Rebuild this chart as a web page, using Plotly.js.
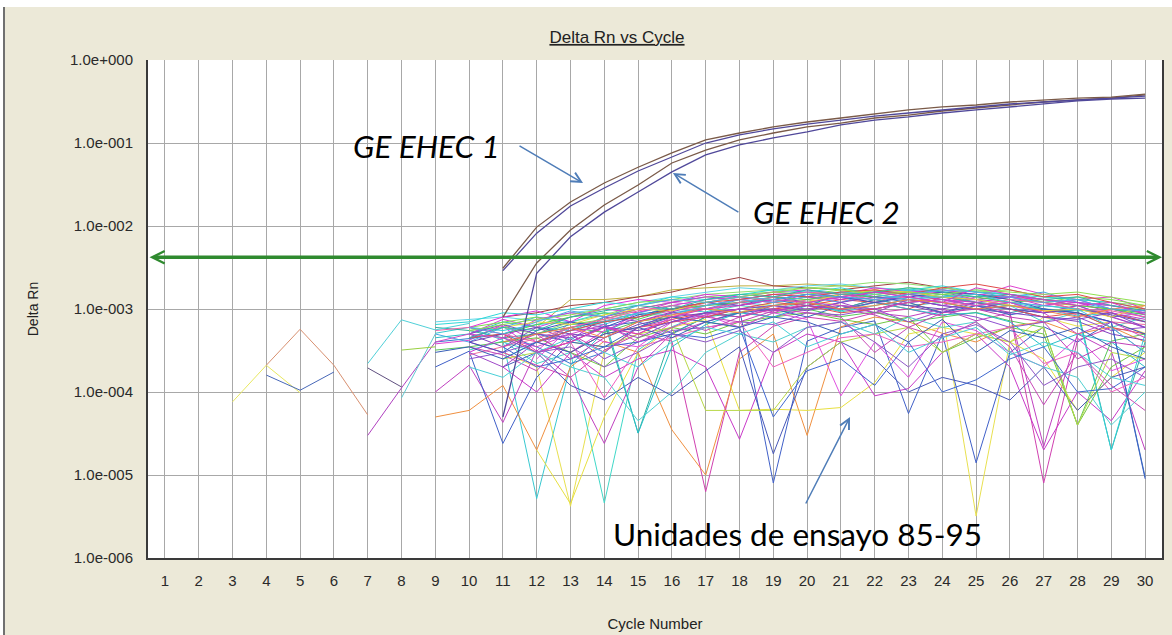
<!DOCTYPE html>
<html><head><meta charset="utf-8">
<script src="https://cdn.plot.ly/plotly-3.0.1.min.js"></script>
<style>
html,body{margin:0;padding:0;background:#fff;}
#bg{position:absolute;left:3px;top:7px;width:1167px;height:628px;background:#ECE9D8;border-left:2px solid #707070;}
#chart{position:absolute;left:0;top:0;width:1172px;height:635px;}
</style></head><body>
<div id="bg"></div><div id="chart"></div>
<script>
// ---------- axis ticks ----------
const cycleTicks = [1,2,3,4,5,6,7,8,9,10,11,12,13,14,15,16,17,18,19,20,21,22,23,24,25,26,27,28,29,30];
const yTickVals = [1e-6,1e-5,1e-4,1e-3,1e-2,1e-1,1];
const yTickText = ['1.0e-006','1.0e-005','1.0e-004','1.0e-003','1.0e-002','1.0e-001','1.0e+000'];

// ---------- threshold ----------
const threshold = 0.0042;

// ---------- amplification curves (GE EHEC) ----------
const ampCycles = [11,12,13,14,15,16,17,18,19,20,21,22,23,24,25,26,27,28,29,30];
const ehec1a = [0.0031,0.0097,0.0195,0.033,0.051,0.076,0.109,0.132,0.156,0.179,0.200,0.224,0.250,0.272,0.287,0.312,0.330,0.348,0.358,0.389];
const ehec1b = [0.0029,0.0082,0.0174,0.0287,0.046,0.068,0.100,0.125,0.148,0.169,0.189,0.211,0.230,0.250,0.272,0.295,0.312,0.330,0.348,0.368];
const ehec2a = [0.0008,0.00358,0.00895,0.0179,0.0312,0.0574,0.082,0.109,0.132,0.156,0.174,0.200,0.217,0.243,0.264,0.287,0.312,0.330,0.348,0.379];
const ehec2b = [0.00005,0.0027,0.0074,0.0147,0.0257,0.0448,0.072,0.095,0.115,0.136,0.165,0.189,0.206,0.230,0.250,0.272,0.295,0.321,0.339,0.348];

// ---------- test units 85-95 (noise), values in units of 1e-4 ----------
const noiseCycles = [9,10,11,12,13,14,15,16,17,18,19,20,21,22,23,24,25,26,27,28,29,30];
const n01 = [null,4.5,6.2,3.1,7.0,5.2,9.1,11,13,14,12,15,13,16,14,12,13,11,9.0,10,8.1,6.0];
const n02 = [5.1,6.0,4.2,0.052,2.1,5.3,8.0,10,9.2,12,11,13,10,12,15,13,11,12,10,8.2,9.0,7.1];
const n03 = [null,null,3.0,2.0,0.042,3.1,6.0,8.2,10,9.1,12,13,11,10,12,9.0,0.032,4.0,8.0,6.2,7.0,5.1];
const n04 = [null,3.2,4.1,2.2,3.0,0.046,3.2,6.1,9.0,11,10,12,9.2,11,13,12,10,11,7.0,9.1,6.0,8.0];
const n05 = [1.0,2.1,0.43,3.2,1.5,0.24,2.0,5.1,7.0,9.2,8.0,10,11,9.0,8.1,10,7.2,9.0,0.22,5.0,3.1,0.2];
const n06 = [2.0,3.1,0.24,1.5,4.0,6.2,7.0,5.1,8.0,10,0.08,4.1,6.0,7.2,0.55,5.0,0.14,3.0,6.1,4.0,7.0,0.09];
const n07 = [null,4.0,3.0,2.1,1.5,3.2,5.0,4.1,0.063,3.0,6.2,8.0,7.1,9.0,10,8.2,11,9.1,0.08,4.2,6.0,3.0];
const n08 = [3.2,3.5,4.0,5.1,6.0,5.2,7.1,8.0,7.0,6.1,9.0,10,8.1,9.2,7.0,8.0,9.1,7.2,6.0,0.4,4.1,5.0];
const n09 = [0.5,0.6,1.2,0.2,2.0,4.1,3.0,0.35,0.1,2.5,5.0,0.3,6.1,8.0,7.0,5.1,4.0,6.2,7.0,5.0,6.1,4.0];
const n10 = [null,5.0,3.5,6.0,4.2,8.0,7.1,9.2,12,11,14,12,10,13,11,9.0,12,10,8.0,7.1,5.0,4.2];
const n11 = [null,null,null,6.0,13,13,14,17,18,19,19,20,19,18,17,16,15,14,12,11,10,9.0];
const n12 = [null,null,8.0,9.0,11,12,14,16,20,24,19,18,17,19,21,18,16,15,13,12,11,9.5];
const n13 = [7.0,7.5,8.0,7.2,9.0,10,12,14,16,18,17,19,20,18,17,16,17,15,13,12,11,10];
const n14 = [null,5.5,6.0,5.0,7.0,8.5,11,13,15,16,17,18,19,21,20,18,16,17,14,13,12,11];
const n15 = [3.8,4.2,6.5,4.0,3.0,5.5,8.0,9.5,11,13,12,14,12,15,13,11,14,19,15,13,14,10];
const n16 = [4.0,4.4,5.0,3.5,2.2,3.0,6.0,9.0,10,12,13,11,15,14,12,13,11,10,9.0,11,8.0,9.0];
const n17 = [null,2.8,3.5,4.4,6.0,7.2,9.0,8.0,11,12,10,13,14,12,16,14,12,11,10,8.5,7.0,6.5];
const n18 = [6.0,5.5,4.5,5.0,6.5,7.0,0.32,5.0,8.0,9.0,11,12,10,13,11,12,10,9.0,11,10,0.2,4.0];
const n19 = [null,null,null,0.2,0.045,0.5,3.0,6.0,7.5,0.6,0.62,0.6,0.65,1.3,5.0,6.0,5.0,4.0,2.5,0.6,1.5,3.0];
const n20 = [null,null,2.0,1.0,3.0,1.5,2.5,3.2,2.0,0.27,3.0,5.0,4.0,0.9,1.1,3.0,5.0,2.0,0.2,1.0,0.45,1.8];
const n21 = [null,6.0,5.5,6.5,7.0,9.0,8.5,10,12,14,13,15,16,14,13,15,12,11,10,9.0,0.2,5.0];
const n22 = [null,null,2.0,3.0,1.2,0.8,1.5,0.9,1.8,3.5,0.18,2.0,4.0,2.5,1.0,1.5,1.2,0.8,2.0,0.6,1.5,2.0];
const n23 = [null,4.5,5.0,3.0,4.0,6.0,5.0,7.5,9.0,8.0,10,11,13,12,10,14,13,15,12,10,9.0,7.0];
const n24 = [null,null,4.0,4.5,3.0,2.0,4.5,6.0,5.0,7.0,8.0,9.0,7.5,6.5,8.0,3.0,4.5,6.0,5.0,0.4,2.0,3.5];
const n25 = [null,2.5,3.0,4.0,5.0,2.5,4.0,5.5,6.0,7.0,6.5,9.0,8.5,10,7.0,9.5,8.0,6.0,7.0,8.0,5.5,6.0];
const n26 = [5.0,4.0,6.0,8.0,7.0,6.5,9.0,11,10,13,15,14,12,16,17,15,13,14,16,12,10,8.0];
const n27 = [null,null,null,2.5,6.0,4.0,3.5,7.0,8.5,6.0,9.0,7.5,0.9,4.0,1.5,7.0,5.5,3.0,2.0,4.5,1.8,2.5];
const n28 = [4.5,5.0,7.0,6.0,5.5,8.0,0.32,3.5,6.5,9.0,8.0,11,9.5,12,10,8.5,9.0,7.0,3.5,5.0,4.0,2.0];
const n29 = [null,null,2.5,3.0,4.0,3.5,5.0,6.0,0.6,0.6,0.6,2.0,4.0,5.0,6.0,3.0,5.0,4.0,6.0,0.4,3.0,2.5];
const n30 = [null,3.0,2.0,4.0,5.5,6.0,4.5,7.0,9.0,8.0,11,10,12,9.0,13,11,10,12,9.0,11,8.0,6.0];
const n31 = [null,null,null,5.0,4.0,3.5,6.0,8.0,7.0,9.0,10,8.0,11,10,12,9.0,11,8.5,10,9.0,7.0,0.095];
const n32 = [null,5.0,7.5,6.0,8.0,10,9.0,12,11,13,15,16,14,17,15,16,13,12,11,13,10,8.0];
const n33 = [null,null,4.0,3.0,2.0,1.5,0.45,1.0,3.0,5.0,4.0,6.0,7.0,5.0,8.0,6.0,7.0,3.0,2.0,1.5,0.4,1.0];
const n34 = [null,null,null,null,3.0,5.0,6.0,7.0,8.0,10,12,11,9.0,10,12,14,12,10,8.0,9.0,6.0,5.0];
const n35 = [null,6.0,7.0,8.0,6.5,7.5,10,12,14,15,16,15,17,16,18,17,15,13,12,14,13,11];
const n36 = [null,null,null,3.0,4.0,0.85,3.5,4.5,6.0,7.0,2.0,3.0,4.5,5.0,3.5,4.0,5.0,6.0,2.2,3.0,1.0,1.5];
const n37 = [null,4.0,5.0,6.0,5.0,4.5,6.5,8.0,9.0,10,9.5,11,10,12,11,10,12,10,9.0,10,8.5,7.0];
const n38 = [null,null,3.5,2.0,2.5,3.5,4.0,5.0,4.5,6.0,0.5,1.8,2.5,1.2,4.0,1.0,1.4,2.5,3.5,1.0,1.1,2.0];
const n39 = [null,null,null,4.0,6.0,7.0,8.0,11,10,12,13,12,14,13,15,14,12,11,10,9.5,10,9.0];
const n40 = [null,3.5,2.8,1.8,5.0,3.0,6.0,7.5,5.5,8.0,10,9.0,8.0,3.0,6.0,4.5,7.0,3.5,0.7,3.0,1.2,0.6];
const n41 = [null,6.0,8.0,9.5,7.0,11,13,12,15,14,16,17,15,18,16,17,15,14,13,12,11,9.0];
const n42 = [6.5,7.0,9.0,8.5,10,12,11,14,13,15,17,16,18,15,17,19,16,15,14,13,12,10];
const n43 = [null,3.0,4.5,7.5,9.0,8.0,10,12,14,13,12,14,13,16,15,13,12,14,11,12,9.0,7.5];
const n44 = [null,null,5.0,6.5,8.0,9.0,7.5,10,11,12,14,13,15,14,16,15,14,12,13,11,10,8.5];
const n45 = [null,4.0,3.0,5.5,7.0,6.0,8.5,10,12,11,13,15,14,12,14,16,15,13,10,9.0,7.0,5.0];
const n46 = [null,null,6.0,7.0,6.5,8.5,10,9.5,12,14,13,12,15,17,16,14,13,11,9.5,10,8.0,11];
const n47 = [5.5,6.0,5.0,4.0,6.0,7.5,9.5,11,10,12,14,16,15,13,14,12,11,13,12,10,9.5,8.0];
const n48 = [null,5.0,6.5,5.0,4.5,6.0,5.5,7.0,9.0,10,11,9.5,12,14,13,11,10,9.0,8.0,7.5,9.0,6.0];
const n49 = [null,null,2.5,4.0,5.5,7.0,9.0,8.5,11,13,12,14,16,15,13,14,15,12,11,10,6.0,3.0];
const n50 = [4.0,5.0,4.5,3.5,5.0,6.5,4.0,6.0,8.5,10,9.0,12,11,10,12,13,11,12,9.0,5.0,7.0,4.5];
const n51 = [null,null,null,4.0,5.5,7.0,8.0,10,12,13,15,14,16,17,15,18,20,17,14,15,12,10];
const n52 = [null,4.5,6.0,5.5,8.0,9.5,11,10,13,15,14,17,15,16,18,16,14,15,13,14,11,9.5];
const n53 = [null,null,3.5,5.0,2.5,4.5,7.0,9.0,8.0,7.0,9.5,11,10,8.5,6.0,9.0,10,8.0,7.0,2.5,4.0,3.5];
const n54 = [null,5.5,6.5,7.5,8.5,10,12,13,12,14,16,18,17,15,16,15,17,16,15,16,14,12];
const n55 = [3.0,3.5,2.5,4.0,3.0,5.0,6.0,4.5,7.0,6.0,8.0,7.0,5.0,6.5,4.0,7.5,3.0,5.5,4.5,6.0,3.5,2.5];
const n56 = [null,null,4.0,5.0,6.0,4.5,7.0,8.5,10,9.0,11,12,10,11,13,12,10,11,9.5,8.0,10,11];
const n57 = [null,2.0,1.5,3.0,4.5,3.0,2.0,4.0,6.0,5.0,7.0,3.5,5.0,6.5,3.0,4.5,6.0,2.8,4.0,3.0,1.5,1.2];
const n58 = [null,null,null,3.0,4.0,6.0,5.0,8.0,10,11,13,12,14,16,14,12,18,15,13,11,12,8.5];
const n59 = [null,6.0,5.0,7.0,9.5,8.0,11,13,12,14,13,15,14,13,15,17,16,14,12,13,10,9.5];
const n60 = [null,null,4.5,3.0,3.5,2.0,3.0,5.0,4.0,5.5,3.0,6.0,7.0,4.0,2.0,5.0,6.5,4.0,1.2,2.0,2.5,1.5];
const noiseSeries = [n01,n02,n03,n04,n05,n06,n07,n08,n09,n10,n11,n12,n13,n14,n15,n16,n17,n18,n19,n20,
                     n21,n22,n23,n24,n25,n26,n27,n28,n29,n30,n31,n32,n33,n34,n35,n36,n37,n38,n39,n40,
                     n41,n42,n43,n44,n45,n46,n47,n48,n49,n50,n51,n52,n53,n54,n55,n56,n57,n58,n59,n60];
const noiseColors = ['#D838D8','#38C8D0','#E8E050','#40D8C8','#C040C0','#4060C8','#D040B0','#58C858','#F09040','#8040C0',
                     '#C0B040','#A04040','#60D8E8','#90E070','#E040D0','#3878D0','#F070A0','#30B0A0','#E8E040','#C838C8',
                     '#30D0D8','#4858B8','#E84848','#70C840','#9050D0','#48A8E8','#E050E0','#28C0C8','#B8D848','#A048C8',
                     '#3868C0','#D040D8','#50D0D0','#E05050','#80E050','#F060C0','#7048B8','#4068D0','#38B8B0','#C848B8',
                     '#E030E0','#30D8D8','#C838D0','#50D050','#4050C0','#E8D840','#F060A8','#8048C8','#40C8E0','#D048C8',
                     '#E04848','#30B8A8','#C040B8','#90E050','#3860B8','#F08848','#48D0D8','#D838C8','#50A8E8','#9058C8'];

// early short segments (units of 1e-4)
const earlyX = [[3,4,5],[4,5,6],[4,5,6,7],[7,8],[7,8,9],[7,8,9,10],[8,9],[8,9]];
const earlyY = [[0.76,2.1,0.98],[1.6,1.05,1.74],[2.1,5.7,2.1,0.53],[1.95,1.15],[0.30,1.12,4.0],[2.2,7.4,5.6,6.7],[0.85,5.0],[3.2,3.5]];
const earlyColors = ['#E8E860','#4868B8','#D89070','#605080','#B040C0','#50D0D8','#60C8D0','#98D040'];

const UNIT = 1e-4;
const traces = [];
noiseSeries.forEach((s,i)=>{
  traces.push({x:noiseCycles, y:s.map(v=>v===null?null:v*UNIT), mode:'lines', type:'scatter',
    line:{color:noiseColors[i], width:1}, hoverinfo:'skip'});
});
earlyX.forEach((xs,i)=>{
  traces.push({x:xs, y:earlyY[i].map(v=>v*UNIT), mode:'lines', type:'scatter',
    line:{color:earlyColors[i], width:1}, hoverinfo:'skip'});
});
[[ehec2a,'#7A5A48'],[ehec2b,'#50489A'],[ehec1b,'#50489A'],[ehec1a,'#7A5A48']].forEach(([s,c])=>{
  traces.push({x:ampCycles, y:s, mode:'lines', type:'scatter', line:{color:c, width:1.3}, hoverinfo:'skip'});
});

const tickFont = {family:'Liberation Sans, Arial, sans-serif', size:15, color:'#2a2a2a'};
const calloutFont = {family:'Lato, "Open Sans", sans-serif', size:31.5, color:'#000'};
const arrowColor = '#4F7DB8';
const lt = Math.log10(threshold);

const layout = {
  width:1172, height:635,
  paper_bgcolor:'rgba(0,0,0,0)', plot_bgcolor:'#ffffff',
  margin:{l:148, r:10, t:60, b:77},
  showlegend:false,
  title:{text:'<u>Delta Rn vs Cycle</u>', x:617/1172, xanchor:'center', xref:'container',
         y:1-37/635, yanchor:'middle', yref:'container',
         font:{family:'Liberation Sans, Arial, sans-serif', size:17, color:'#222'}},
  xaxis:{range:[0.5,30.5], tickmode:'array', tickvals:cycleTicks, ticktext:cycleTicks.map(String),
         showgrid:true, gridcolor:'#A8A8A8', gridwidth:1, zeroline:false,
         showline:true, linecolor:'#3A3A3A', linewidth:2, ticks:'', ticklabelstandoff:8,
         tickfont:tickFont, automargin:false,
         title:{text:'Cycle Number', standoff:30, font:{family:'Liberation Sans, Arial, sans-serif', size:15, color:'#222'}}},
  yaxis:{type:'log', range:[-6,0], tickmode:'array', tickvals:yTickVals, ticktext:yTickText,
         showgrid:true, gridcolor:'#A8A8A8', gridwidth:1, zeroline:false,
         showline:true, mirror:true, linecolor:'#3A3A3A', linewidth:2, ticks:'', ticklabelstandoff:10,
         tickfont:tickFont, automargin:false,
         title:{text:'Delta Rn', standoff:28, font:{family:'Liberation Sans, Arial, sans-serif', size:14, color:'#222'}}},
  annotations:[
    {x:30.5, y:lt, ax:0.5, ay:lt, xref:'x', yref:'y', axref:'x', ayref:'y', text:'', showarrow:true,
     arrowside:'end+start', arrowhead:5, arrowsize:0.7, arrowwidth:3.5, arrowcolor:'#2F8A2F', standoff:0, startstandoff:0},
    {x:8.75, y:-1.036, xref:'x', yref:'y', text:'<i>GE EHEC 1</i>', showarrow:false, font:calloutFont, xanchor:'center', yanchor:'middle'},
    {x:20.56, y:-1.831, xref:'x', yref:'y', text:'<i>GE EHEC 2</i>', showarrow:false, font:calloutFont, xanchor:'center', yanchor:'middle'},
    {x:19.73, y:-5.711, xref:'x', yref:'y', text:'Unidades de ensayo 85-95', showarrow:false, font:calloutFont, xanchor:'center', yanchor:'middle'},
    {x:13.37, y:-1.482, xref:'x', yref:'y', ax:-65, ay:-38, text:'', showarrow:true, arrowhead:5, arrowsize:1.3, arrowwidth:1.5, arrowcolor:arrowColor},
    {x:16.03, y:-1.361, xref:'x', yref:'y', ax:67, ay:40, text:'', showarrow:true, arrowhead:5, arrowsize:1.3, arrowwidth:1.5, arrowcolor:arrowColor},
    {x:21.27, y:-4.301, xref:'x', yref:'y', ax:-45, ay:88, text:'', showarrow:true, arrowhead:5, arrowsize:1.3, arrowwidth:1.5, arrowcolor:arrowColor}
  ]
};
Plotly.newPlot('chart', traces, layout, {displayModeBar:false, staticPlot:true});
</script></body></html>
